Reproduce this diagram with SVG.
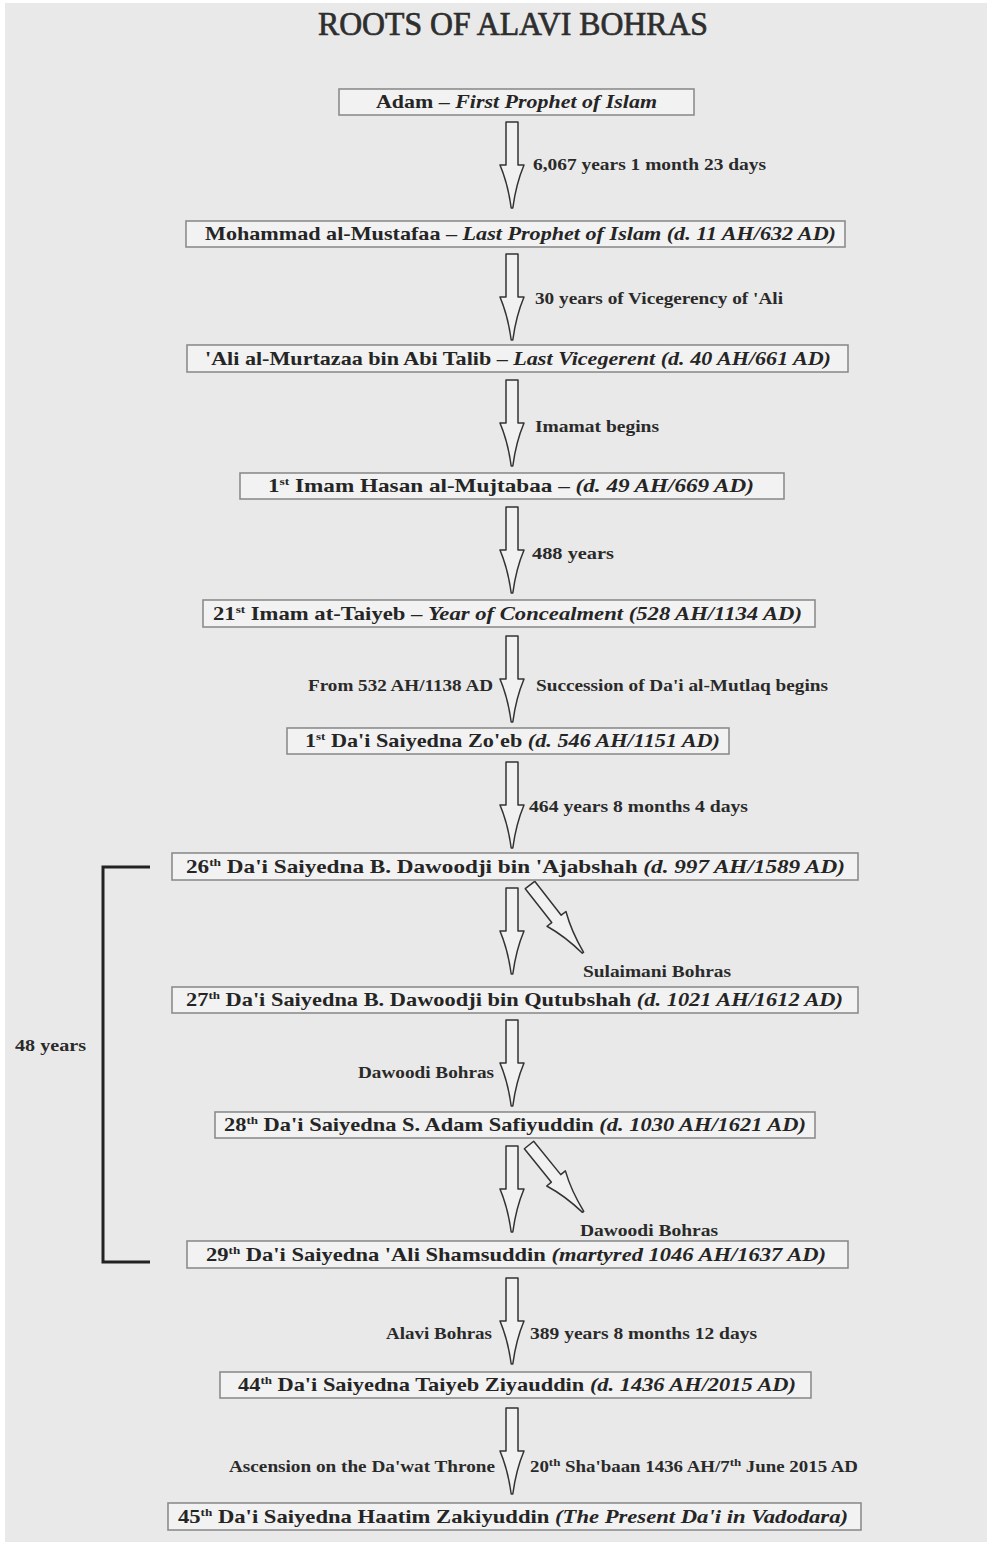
<svg xmlns="http://www.w3.org/2000/svg" xmlns:xlink="http://www.w3.org/1999/xlink" width="987" height="1542" viewBox="0 0 987 1542">
<style>
.box{fill:#f2f2f2;stroke:#8c8c8c;stroke-width:1.6}
.nt{font-family:"Liberation Serif",serif;font-weight:bold;font-size:19px;fill:#252525;text-anchor:middle}
.lb{font-family:"Liberation Serif",serif;font-weight:bold;font-size:16px;fill:#2a2a2a}
.it{font-style:italic}
.sup{font-size:11px}
.arr{fill:#f1f1f1;stroke:#333;stroke-width:1.5;stroke-linejoin:round}
.title{font-family:"Liberation Serif",serif;font-size:33px;fill:#2e2e2e;text-anchor:middle;stroke:#2e2e2e;stroke-width:0.7}
</style>
<defs>
<path id="arrow" class="arr" d="M-6,0 H6 V43 H12 Q4,62 0.8,86 H-0.8 Q-4,62 -12,43 H-6 Z"/>
</defs>
<rect x="0" y="0" width="987" height="1542" fill="#ffffff"/>
<rect x="5" y="3" width="982" height="1539" fill="#e9e9e9"/>
<text class="title" x="513" y="35" textLength="390" lengthAdjust="spacingAndGlyphs">ROOTS OF ALAVI BOHRAS</text>

<g id="connectors">
<use xlink:href="#arrow" transform="translate(512,122)"/>
<use xlink:href="#arrow" transform="translate(512,254)"/>
<use xlink:href="#arrow" transform="translate(512,380)"/>
<use xlink:href="#arrow" transform="translate(512,507)"/>
<use xlink:href="#arrow" transform="translate(512,636)"/>
<use xlink:href="#arrow" transform="translate(512,762)"/>
<use xlink:href="#arrow" transform="translate(512,888)"/>
<use xlink:href="#arrow" transform="translate(530,885) rotate(-38)"/>
<use xlink:href="#arrow" transform="translate(512,1020)"/>
<use xlink:href="#arrow" transform="translate(512,1146)"/>
<use xlink:href="#arrow" transform="translate(529,1145) rotate(-39)"/>
<use xlink:href="#arrow" transform="translate(512,1278)"/>
<use xlink:href="#arrow" transform="translate(512,1408)"/>
<path d="M150,867 H103 V1262 H150" fill="none" stroke="#222" stroke-width="3"/>
<text class="lb" x="533" y="170" textLength="233" lengthAdjust="spacingAndGlyphs">6,067 years 1 month 23 days</text>
<text class="lb" x="535" y="304" textLength="248" lengthAdjust="spacingAndGlyphs">30 years of Vicegerency of 'Ali</text>
<text class="lb" x="535" y="432" textLength="124" lengthAdjust="spacingAndGlyphs">Imamat begins</text>
<text class="lb" x="532" y="559" textLength="82" lengthAdjust="spacingAndGlyphs">488 years</text>
<text class="lb" x="308" y="691" textLength="185" lengthAdjust="spacingAndGlyphs">From 532 AH/1138 AD</text>
<text class="lb" x="536" y="691" textLength="292" lengthAdjust="spacingAndGlyphs">Succession of Da'i al-Mutlaq begins</text>
<text class="lb" x="529" y="812" textLength="219" lengthAdjust="spacingAndGlyphs">464 years 8 months 4 days</text>
<text class="lb" x="583" y="977" textLength="148" lengthAdjust="spacingAndGlyphs">Sulaimani Bohras</text>
<text class="lb" x="358" y="1078" textLength="136" lengthAdjust="spacingAndGlyphs">Dawoodi Bohras</text>
<text class="lb" x="580" y="1236" textLength="138" lengthAdjust="spacingAndGlyphs">Dawoodi Bohras</text>
<text class="lb" x="15" y="1051" textLength="71" lengthAdjust="spacingAndGlyphs">48 years</text>
<text class="lb" x="386" y="1339" textLength="106" lengthAdjust="spacingAndGlyphs">Alavi Bohras</text>
<text class="lb" x="530" y="1339" textLength="227" lengthAdjust="spacingAndGlyphs">389 years 8 months 12 days</text>
<text class="lb" x="229" y="1472" textLength="266" lengthAdjust="spacingAndGlyphs">Ascension on the Da'wat Throne</text>
<text class="lb" x="530" y="1472" textLength="328" lengthAdjust="spacingAndGlyphs">20<tspan class="sup" dy="-6">th</tspan><tspan dy="6"> Sha'baan 1436 AH/7</tspan><tspan class="sup" dy="-6">th</tspan><tspan dy="6"> June 2015 AD</tspan></text>
</g>

<g id="n1"><rect class="box" x="339" y="89" width="355" height="26"/>
<text class="nt" x="516.5" y="108" textLength="281" lengthAdjust="spacingAndGlyphs">Adam – <tspan class="it">First Prophet of Islam</tspan></text></g>
<g id="n2"><rect class="box" x="186" y="221" width="659" height="26"/>
<text class="nt" x="520.5" y="240" textLength="631" lengthAdjust="spacingAndGlyphs">Mohammad al-Mustafaa – <tspan class="it">Last Prophet of Islam (d. 11 AH/632 AD)</tspan></text></g>
<g id="n3"><rect class="box" x="187" y="345" width="661" height="27"/>
<text class="nt" x="518" y="365" textLength="626" lengthAdjust="spacingAndGlyphs">'Ali al-Murtazaa bin Abi Talib – <tspan class="it">Last Vicegerent (d. 40 AH/661 AD)</tspan></text></g>
<g id="n4"><rect class="box" x="240" y="473" width="544" height="26"/>
<text class="nt" x="511" y="492" textLength="486" lengthAdjust="spacingAndGlyphs">1<tspan class="sup" dy="-7">st</tspan><tspan dy="7"> Imam Hasan al-Mujtabaa – </tspan><tspan class="it">(d. 49 AH/669 AD)</tspan></text></g>
<g id="n5"><rect class="box" x="203" y="600" width="612" height="27"/>
<text class="nt" x="507.5" y="620" textLength="589" lengthAdjust="spacingAndGlyphs">21<tspan class="sup" dy="-7">st</tspan><tspan dy="7"> Imam at-Taiyeb – </tspan><tspan class="it">Year of Concealment (528 AH/1134 AD)</tspan></text></g>
<g id="n6"><rect class="box" x="287" y="728" width="442" height="26"/>
<text class="nt" x="512.5" y="747" textLength="415" lengthAdjust="spacingAndGlyphs">1<tspan class="sup" dy="-7">st</tspan><tspan dy="7"> Da'i Saiyedna Zo'eb </tspan><tspan class="it">(d. 546 AH/1151 AD)</tspan></text></g>
<g id="n7"><rect class="box" x="172" y="853" width="686" height="27"/>
<text class="nt" x="515.5" y="873" textLength="659" lengthAdjust="spacingAndGlyphs">26<tspan class="sup" dy="-7">th</tspan><tspan dy="7"> Da'i Saiyedna B. Dawoodji bin 'Ajabshah </tspan><tspan class="it">(d. 997 AH/1589 AD)</tspan></text></g>
<g id="n8"><rect class="box" x="172" y="987" width="686" height="26"/>
<text class="nt" x="514.5" y="1006" textLength="657" lengthAdjust="spacingAndGlyphs">27<tspan class="sup" dy="-7">th</tspan><tspan dy="7"> Da'i Saiyedna B. Dawoodji bin Qutubshah </tspan><tspan class="it">(d. 1021 AH/1612 AD)</tspan></text></g>
<g id="n9"><rect class="box" x="215" y="1112" width="600" height="26"/>
<text class="nt" x="515" y="1131" textLength="582" lengthAdjust="spacingAndGlyphs">28<tspan class="sup" dy="-7">th</tspan><tspan dy="7"> Da'i Saiyedna S. Adam Safiyuddin </tspan><tspan class="it">(d. 1030 AH/1621 AD)</tspan></text></g>
<g id="n10"><rect class="box" x="187" y="1241" width="661" height="27"/>
<text class="nt" x="516" y="1261" textLength="620" lengthAdjust="spacingAndGlyphs">29<tspan class="sup" dy="-7">th</tspan><tspan dy="7"> Da'i Saiyedna 'Ali Shamsuddin </tspan><tspan class="it">(martyred 1046 AH/1637 AD)</tspan></text></g>
<g id="n11"><rect class="box" x="220" y="1372" width="591" height="26"/>
<text class="nt" x="517" y="1391" textLength="558" lengthAdjust="spacingAndGlyphs">44<tspan class="sup" dy="-7">th</tspan><tspan dy="7"> Da'i Saiyedna Taiyeb Ziyauddin </tspan><tspan class="it">(d. 1436 AH/2015 AD)</tspan></text></g>
<g id="n12"><rect class="box" x="168" y="1503" width="693" height="27"/>
<text class="nt" x="513" y="1523" textLength="670" lengthAdjust="spacingAndGlyphs">45<tspan class="sup" dy="-7">th</tspan><tspan dy="7"> Da'i Saiyedna Haatim Zakiyuddin </tspan><tspan class="it">(The Present Da'i in Vadodara)</tspan></text></g>
</svg>
